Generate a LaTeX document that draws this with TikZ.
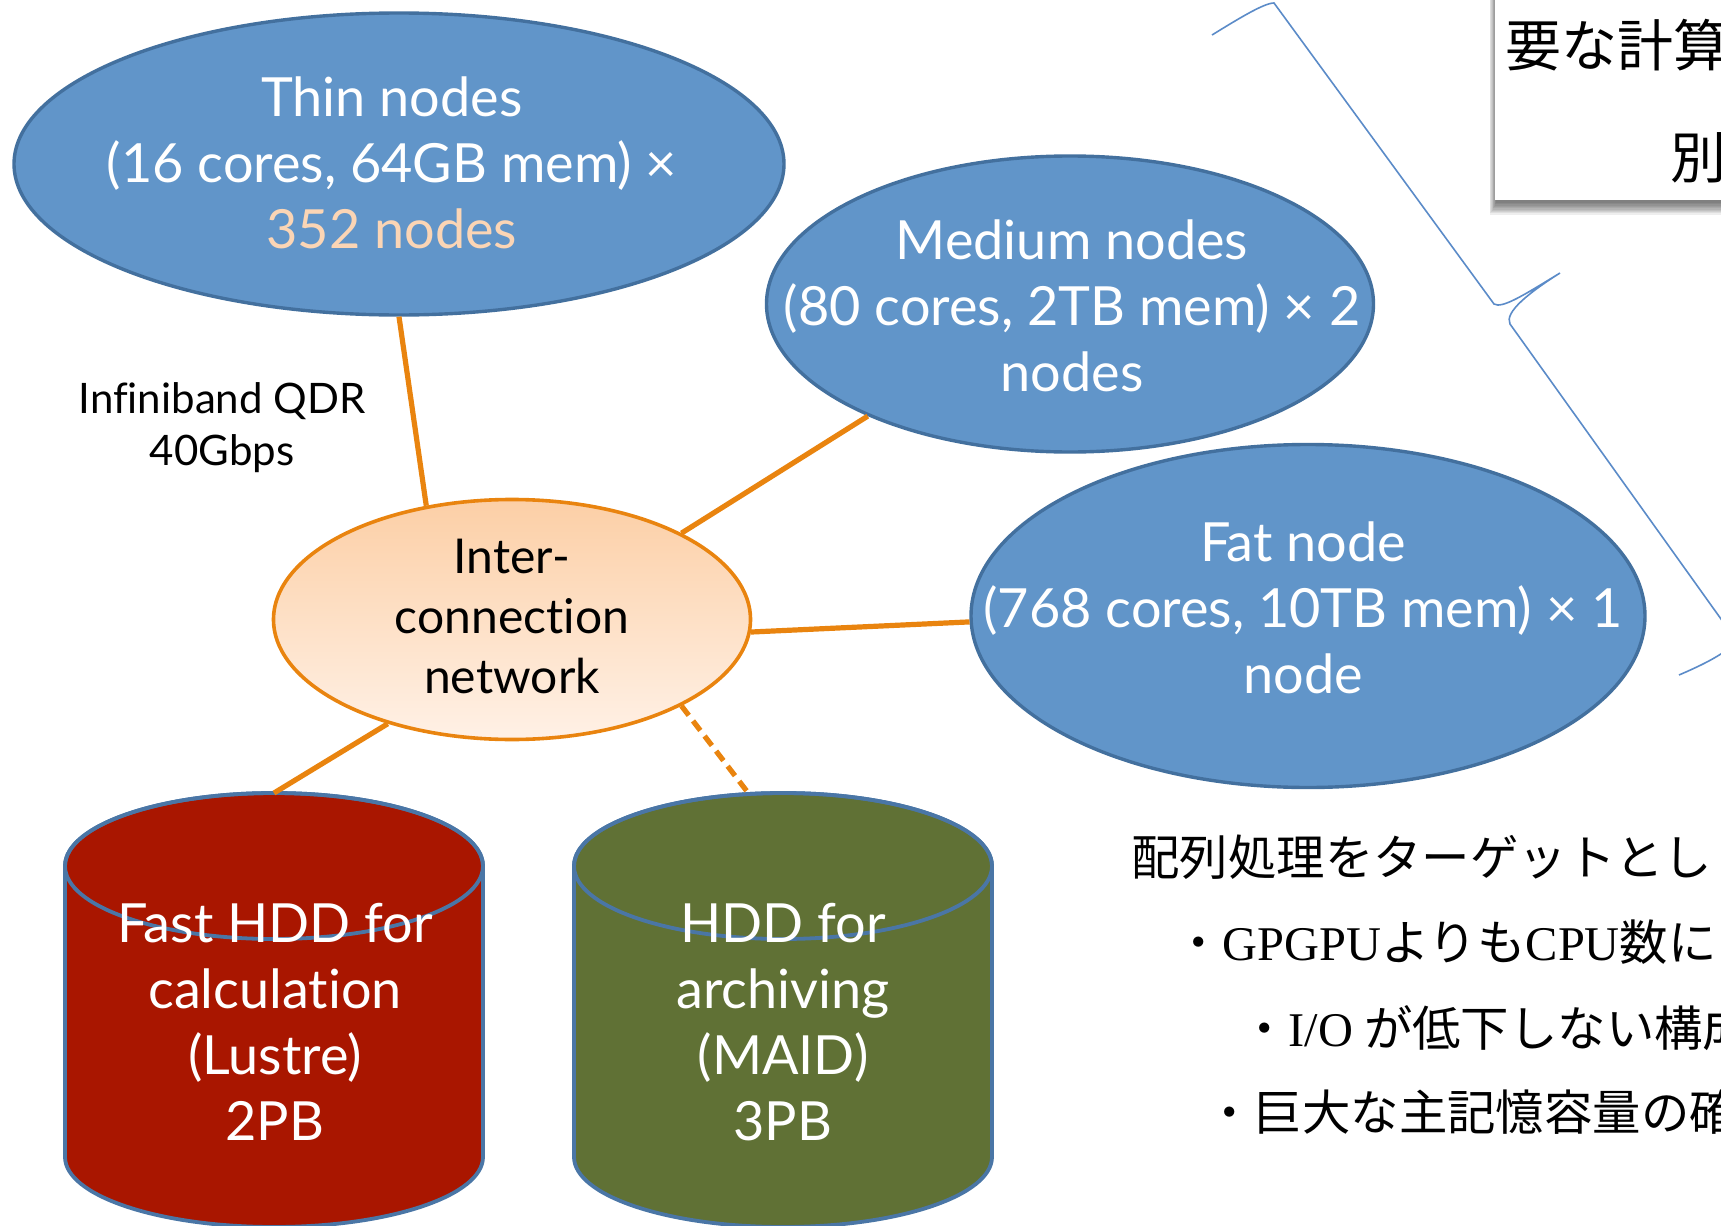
\documentclass[tikz,border=0pt]{standalone}
\usepackage{fontspec}
\setmainfont{Lato}[Ligatures={NoCommon}]
\newfontfamily\jpfont{Noto Sans CJK JP}
\newfontfamily\seriflatin{Liberation Serif}
\usetikzlibrary{shapes.geometric}
\definecolor{nodeblue}{HTML}{6195C9}
\definecolor{nodeedge}{HTML}{43709E}
\definecolor{linkorange}{HTML}{E9840F}
\definecolor{peach}{HTML}{FBD5B5}
\definecolor{hubtop}{HTML}{FCCFA6}
\definecolor{hubbottom}{HTML}{FFF1E6}
\definecolor{diskred}{HTML}{A91600}
\definecolor{diskgreen}{HTML}{607135}
\definecolor{diskedge}{HTML}{4A76A6}
\definecolor{braceblue}{HTML}{5B8BC8}
\begin{document}
\begin{tikzpicture}[x=0.5pt, y=-0.5pt,
  bluenode/.style={ellipse, draw=nodeedge, line width=1.7pt, fill=nodeblue, inner sep=0pt},
  hubnode/.style={ellipse, draw=linkorange, line width=1.8pt, top color=hubtop, bottom color=hubbottom, inner sep=0pt},
  nodetext/.style={align=center, text=white, inner sep=0pt, font=\fontsize{27}{33}\selectfont},
  hubtext/.style={align=center, inner sep=0pt, font=\fontsize{24}{30}\selectfont},
  link/.style={draw=linkorange, line width=2.6pt},
  dashedlink/.style={link, dash pattern=on 6pt off 3.5pt},
  diskbody/.style={draw=diskedge, line width=1.9pt},
  bracepath/.style={draw=braceblue, line width=0.8pt},
  jpline/.style={anchor=base west, inner sep=0pt, font=\jpfont\fontsize{24.2}{28}\selectfont},
  notetext/.style={anchor=base west, inner sep=0pt, font=\jpfont\fontsize{28}{34}\selectfont}
]
\useasboundingbox (0,0) rectangle (1721,1226);
\clip (0,0) rectangle (1721,1226);

% curly brace on the right
\draw[bracepath] (1212,35) .. controls (1238,19) and (1264,3) .. (1274,3)
  -- (1494,304) .. controls (1502,309) and (1524,295) .. (1560,273)
  .. controls (1530,292) and (1504,312) .. (1510,324)
  -- (1736,640) .. controls (1730,652) and (1700,666) .. (1679,675);

% note box with a soft shadow
\foreach \k in {0,...,9}
  \fill[black, opacity=0.065] (1496-0.7*\k,-20) rectangle (1760,203+1.3*\k);
\fill[white] (1495,-20) rectangle (1760,200);
\node[notetext] (note1) at (1505,66) {要な計算};
\node[notetext] (note2) at (1670,178) {別};

% compute nodes
\node[bluenode, minimum width=385pt, minimum height=151pt] (thin) at (399,164) {};
\node[bluenode, minimum width=303.5pt, minimum height=148pt] (medium) at (1070,304) {};
\node[bluenode, minimum width=337pt, minimum height=171.5pt] (fat) at (1308,616) {};
\node[hubnode, minimum width=238.5pt, minimum height=120pt] (hub) at (512,619.5) {};

\node[nodetext] (thintext) at (392,163) {Thin nodes\\(16 cores, 64GB mem) ×\\\textcolor{peach}{352 nodes}};
\node[nodetext] (mediumtext) at (1072,306) {Medium nodes\\(80 cores, 2TB mem) × 2\\nodes};
\node[nodetext] (fattext) at (1303,608) {Fat node\\(768 cores, 10TB mem) × 1\\node};
\node[hubtext] (hubtext) at (512,616) {Inter-\\connection\\network};

\node[align=center, inner sep=0pt, font=\fontsize{21}{26}\selectfont] (iblabel) at (222,428) {Infiniband QDR\\40Gbps};

% storage cylinders
\path[diskbody, fill=diskred] (65,866) -- (65,1157)
  arc[start angle=180, end angle=0, x radius=209, y radius=70] -- (483,866)
  arc[start angle=0, end angle=-180, x radius=209, y radius=73] -- cycle;
\draw[diskbody] (274,866) ellipse[x radius=209, y radius=73];
\path[diskbody, fill=diskgreen] (574,866) -- (574,1157)
  arc[start angle=180, end angle=0, x radius=209, y radius=70] -- (992,866)
  arc[start angle=0, end angle=-180, x radius=209, y radius=73] -- cycle;
\draw[diskbody] (783,866) ellipse[x radius=209, y radius=73];
\coordinate (fasttop) at (274,793);
\coordinate (archtop) at (749,794);

\node[nodetext] (fasttext) at (275,1022) {Fast HDD for\\calculation\\(Lustre)\\2PB};
\node[nodetext] (archtext) at (783,1022) {HDD for\\archiving\\(MAID)\\3PB};

% links
\draw[link] (thin.south) -- (hub.127);
\draw[link] (medium.209) -- (hub.27);
\draw[link] (fat.181) -- (hub.-3);
\draw[link] (hub.220) -- (fasttop);
\draw[dashedlink] (hub.-27) -- (archtop);

% notes in the lower right
\node[jpline] (jp1) at (1131,875) {配列処理をターゲットとし};
\node[jpline] (jp2) at (1174,960) {・{\seriflatin GPGPU}よりも{\seriflatin CPU}数に};
\node[jpline] (jp3) at (1240,1046) {・{\seriflatin I/O} が低下しない構成};
\node[jpline] (jp4) at (1205,1130) {・巨大な主記憶容量の確};
\end{tikzpicture}
\end{document}
